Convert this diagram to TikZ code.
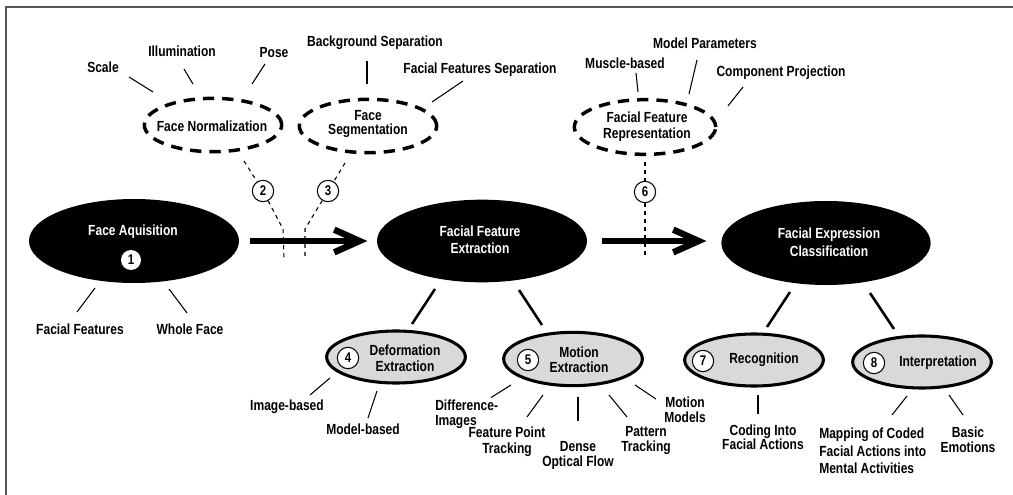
\documentclass[tikz,border=0pt]{standalone}
\usepackage{fontspec}
\setmainfont{Liberation Sans}[FakeStretch=0.82]
\usetikzlibrary{shapes.geometric,arrows.meta,calc}
\definecolor{framegray}{RGB}{85,85,85}
\definecolor{lightfill}{RGB}{217,217,217}
\tikzset{
  lab/.style={font=\fontsize{11}{11.5}\selectfont\bfseries, align=center, inner sep=0pt},
  wlab/.style={lab, text=white},
  bigell/.style={ellipse, fill=black, inner sep=0pt, minimum width=157.5pt, minimum height=63pt},
  dashell/.style={ellipse, draw, line width=2.6pt, dash pattern=on 8.5pt off 6pt, inner sep=0pt, minimum width=103pt, minimum height=40pt},
  greyell/.style={ellipse, draw, fill=lightfill, line width=2.3pt, inner sep=0pt, minimum width=104pt, minimum height=39pt},
  numc/.style={circle, draw, fill=white, line width=0.8pt, inner sep=0pt, minimum size=16pt, font=\fontsize{10.5}{10}\selectfont\bfseries},
  numw/.style={circle, fill=white, inner sep=0pt, minimum size=15pt, font=\fontsize{10.5}{10}\selectfont\bfseries},
  lbl/.style={line width=0.8pt},
  conn/.style={line width=1.9pt},
  thindash/.style={line width=0.8pt, dash pattern=on 3pt off 3pt},
  bigarr/.style={line width=4.8pt, -{Straight Barb[length=19pt, width=17pt]}},
  framel/.style={line width=1.5pt, draw=framegray}
}
\begin{document}
\begin{tikzpicture}[x=0.75pt, y=-0.75pt]
\useasboundingbox (0,0) rectangle (1013,495);
\coordinate (fbl) at (6,495);
\coordinate (ftl) at (6,7);
\coordinate (ftr) at (1013,7);
\draw[framel] (fbl) -- (ftl) -- (ftr);

% main ellipses
\node[bigell] (fa) at (134,241) {};
\node[bigell, minimum height=62pt] (ffe) at (482,241) {};
\node[bigell, minimum width=157pt] (fec) at (826,243) {};
\node[wlab] (faT) at (133,232) {Face Aquisition};
\node[numw] (n1) at (131,260) {1};
\node[wlab, font=\fontsize{11}{12.5}\selectfont\bfseries] (ffeT) at (480,240) {Facial Feature\\Extraction};
\node[wlab, font=\fontsize{11}{13.3}\selectfont\bfseries] (fecT) at (829,242) {Facial Expression\\Classification};

% dashed ellipses
\node[dashell] (fn) at (213,125) {};
\node[lab] (fnT) at (212,126) {Face Normalization};
\node[dashell] (fs) at (368,126) {};
\node[lab, font=\fontsize{11}{10.5}\selectfont\bfseries] (fsT) at (368,124) {Face\\Segmentation};
\node[dashell, minimum width=106pt, minimum height=41pt] (ffr) at (645,127) {};
\node[lab, font=\fontsize{11}{12}\selectfont\bfseries] (ffrT) at (647,127) {Facial Feature\\Representation};

% grey ellipses
\node[greyell] (de) at (396,357) {};
\node[numc] (n4) at (348,358) {4};
\node[lab, font=\fontsize{11}{12}\selectfont\bfseries] (deT) at (405,358) {Deformation\\Extraction};
\node[greyell, minimum height=40pt] (me) at (573,359) {};
\node[numc] (n5) at (528,360) {5};
\node[lab, font=\fontsize{11}{11}\selectfont\bfseries] (meT) at (579,360) {Motion\\Extraction};
\node[greyell] (rec) at (754,360) {};
\node[numc] (n7) at (703,361) {7};
\node[lab] (recT) at (764,360) {Recognition};
\node[greyell] (intp) at (922,362) {};
\node[numc] (n8) at (874,363) {8};
\node[lab] (intT) at (938,363) {Interpretation};

% top labels
\node[lab] (scale) at (103,67) {Scale};
\node[lab] (illum) at (182,51) {Illumination};
\node[lab] (pose) at (274,53) {Pose};
\node[lab] (bgsep) at (375,43) {Background Separation};
\node[lab] (ffsep) at (480,70) {Facial Features Separation};
\node[lab] (muscle) at (625,63) {Muscle-based};
\node[lab] (modpar) at (705,43) {Model Parameters};
\node[lab] (comproj) at (781,73) {Component Projection};

% bottom labels
\node[lab] (facfeat) at (80,329) {Facial Features};
\node[lab] (whole) at (190,329) {Whole Face};
\node[lab] (imgb) at (287,407) {Image-based};
\node[lab] (modb) at (363,429) {Model-based};
\node[lab, align=left, anchor=west, font=\fontsize{11}{11.25}\selectfont\bfseries] (diff) at (435,414.5) {Difference-\\Images};
\node[lab, font=\fontsize{11}{12}\selectfont\bfseries] (fpt) at (507,442) {Feature Point\\Tracking};
\node[lab, font=\fontsize{11}{11.25}\selectfont\bfseries] (dof) at (578,455) {Dense\\Optical Flow};
\node[lab, font=\fontsize{11}{11.25}\selectfont\bfseries] (pt) at (646,441) {Pattern\\Tracking};
\node[lab, font=\fontsize{11}{11.25}\selectfont\bfseries] (mm) at (685,410) {Motion\\Models};
\node[lab, font=\fontsize{11}{10.8}\selectfont\bfseries] (coding) at (763,437) {Coding Into\\Facial Actions};
\node[lab, align=left, anchor=west, font=\fontsize{11}{13}\selectfont\bfseries] (mapping) at (819,451) {Mapping of Coded\\Facial Actions into\\Mental Activities};
\node[lab, font=\fontsize{11}{11.25}\selectfont\bfseries] (basic) at (968,440) {Basic\\Emotions};

% number circles on dashed links
\node[numc] (n2) at (263,191) {2};
\node[numc] (n3) at (328,191) {3};
\node[numc] (n6) at (645,192) {6};

% big arrows
\draw[bigarr, shorten <=8pt, shorten >=7pt] (fa) -- (ffe);
\draw[bigarr, shorten <=11pt, shorten >=11pt] (ffe) -- (ffe -| fec.west);

% dashed links
\draw[thindash] ($(fn)+(31,36)$) -- (n2);
\draw[thindash] (n2) -- ($(n2)+(20,38)$) -- ($(n2)+(21,67)$);
\draw[thindash] ($(fs)+(-23,37)$) -- (n3);
\draw[thindash] (n3) -- ($(n3)+(-23,38)$) -- ($(n3)+(-23,67)$);
\draw[thindash] ($(ffr)+(0,35)$) -- (n6);
\draw[thindash] (n6) -- ($(n6)+(0,66)$);

% label lines
\draw[lbl] ($(fn)+(-60,-33)$) -- ($(scale)+(26,10)$);
\draw[lbl] ($(fn)+(-20,-41)$) -- ($(illum)+(2,18)$);
\draw[lbl] ($(fn)+(39,-41)$) -- ($(pose)+(-9,11)$);
\draw[lbl] ($(fs)+(-1,-42)$) -- ($(bgsep)+(-8,18)$);
\draw[lbl] ($(fs)+(64,-24)$) -- ($(ffsep)+(-17,11)$);
\draw[lbl] ($(ffr)+(-7,-35)$) -- ($(muscle)+(11,10)$);
\draw[lbl] ($(ffr)+(44,-33)$) -- ($(modpar)+(-8,17)$);
\draw[lbl] ($(ffr)+(83,-21)$) -- ($(comproj)+(-38,14)$);
\draw[lbl] ($(fa)+(-39,47)$) -- ($(facfeat)+(-3,-17)$);
\draw[lbl] ($(fa)+(35,48)$) -- ($(whole)+(-3,-16)$);
\draw[conn] ($(ffe)+(-47,48)$) -- ($(de)+(16,-33)$);
\draw[conn] ($(ffe)+(37,49)$) -- ($(me)+(-31,-34)$);
\draw[lbl] ($(de)+(-66,21)$) -- ($(imgb)+(23,-12)$);
\draw[lbl] ($(de)+(-19,34)$) -- ($(modb)+(5,-11)$);
\draw[lbl] ($(me)+(-62,26)$) -- ($(diff.west)+(56,-17)$);
\draw[lbl] ($(me)+(-30,36)$) -- ($(fpt)+(20,-25)$);
\draw[lbl] ($(me)+(5,38)$) -- ($(dof)+(0,-34)$);
\draw[lbl] ($(me)+(36,36)$) -- ($(pt)+(-19,-24)$);
\draw[lbl] ($(me)+(62,26)$) -- ($(mm)+(-29,-11)$);
\draw[conn] ($(fec)+(-36,49)$) -- ($(rec)+(13,-33)$);
\draw[conn] ($(fec)+(44,50)$) -- ($(intp)+(-28,-33)$);
\draw[lbl] ($(rec)+(4,35)$) -- ($(coding)+(-5,-23)$);
\draw[lbl] ($(intp)+(-15,34)$) -- ($(mapping.west)+(73,-36)$);
\draw[lbl] ($(intp)+(27,33)$) -- ($(basic)+(-5,-25)$);
\end{tikzpicture}
\end{document}
